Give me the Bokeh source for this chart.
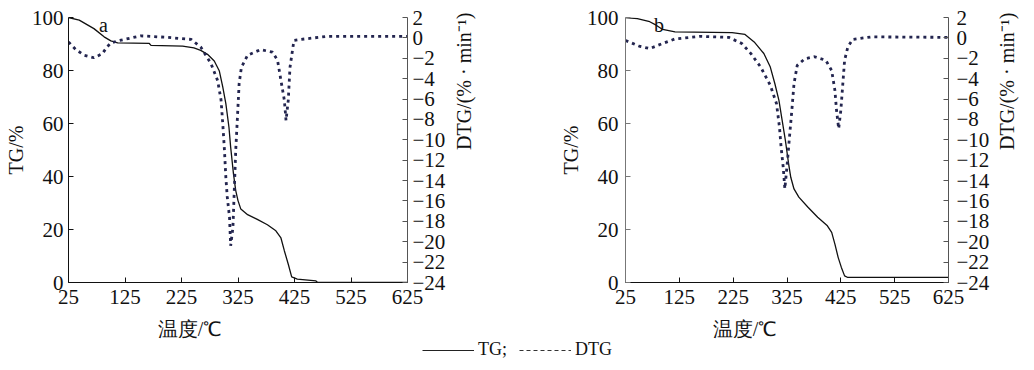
import math
from bokeh.plotting import figure
from bokeh.models import Range1d, LinearAxis, FixedTicker, Legend, LegendItem, Label
from bokeh.layouts import column, row
from bokeh.embed import file_html
from bokeh.resources import INLINE

# ---- data ----
x_ticks = [25, 125, 225, 325, 425, 525, 625]
tg_ticks = [0, 20, 40, 60, 80, 100]
dtg_ticks = list(range(-24, 3, 2))

a_tg_T = [25, 44, 70, 88, 100, 112, 168, 171, 227, 247, 259, 271, 283, 292, 298, 303.5, 309, 312,
          317, 321, 325, 330, 342, 360, 377, 392, 401, 407, 414, 420, 430, 463, 466, 625]
a_tg = [100, 99.0, 95.8, 92.7, 91.2, 90.4, 90.2, 89.5, 89.2, 88.5, 87.6, 86.1, 83.6, 79.8, 73.8, 67.5,
        58.6, 51.1, 41.0, 34.7, 30.9, 27.7, 25.6, 23.7, 21.8, 19.5, 16.8, 12.0, 6.9, 2.1, 1.3, 0.6, 0, 0]

a_dtg_T = [25, 38, 53, 70, 85, 93, 100, 112, 153, 200, 242, 259, 277, 289, 295, 298, 301, 303.5, 306,
           310, 312, 316, 318, 321, 324, 327, 331, 342, 365, 386, 395, 402, 407, 410, 414, 417, 421.5,
           424, 436, 483, 625]
a_dtg = [-0.4, -1.15, -1.7, -1.95, -1.55, -0.9, -0.5, -0.3, 0.2, 0.05, -0.15, -0.9, -2.5, -4.2, -6.1,
         -8.4, -11.0, -13.7, -15.6, -17.6, -20.4, -18.6, -15.6, -11.0, -7.8, -4.5, -2.9, -1.7, -1.15,
         -1.4, -2.2, -4.5, -6.1, -8.1, -6.1, -2.9, -1.2, -0.25, -0.15, 0.15, 0.15]

b_tg_T = [25, 47, 70, 82, 94, 117, 223, 247, 264, 282, 294, 302.5, 310, 316, 322, 328, 332, 338, 347,
          364, 382, 400, 408, 414, 420, 426, 432, 438, 625]
b_tg = [100, 99.6, 98.4, 97.1, 95.5, 94.6, 94.3, 93.6, 90.8, 86.4, 81.3, 75, 68.7, 61.2, 53.6, 44.8,
        39.7, 35.3, 32.2, 28.4, 24.6, 21.4, 18.9, 14.5, 9.5, 5.7, 2.5, 1.9, 1.9]

b_dtg_T = [25, 50, 70, 94, 117, 164, 217, 241, 258, 276, 294, 305.5, 311, 314, 318, 321, 326, 329, 334,
           338, 344, 358, 376, 397, 408, 414, 417, 421, 425, 428, 432, 438, 447, 482, 625]
b_dtg = [-0.25, -0.8, -1.05, -0.55, -0.1, 0.15, 0.05, -0.55, -1.55, -2.85, -4.65, -6.45, -8.75, -10.7,
         -12.7, -14.8, -12.0, -10.1, -7.1, -4.5, -2.7, -2.05, -1.85, -2.2, -3.2, -5.15, -7.1, -8.9, -7.1,
         -5.0, -2.2, -0.9, -0.15, 0.1, 0.05]

x_label = "温度/℃"
tg_label = "TG/%"
dtg_label = "DTG/(% · min⁻¹)"
legend_labels = ["TG;", "DTG"]

SERIF = "Liberation Serif"
FS = "20px"
TICK_FS = "21px"


def style_axis(ax, color, standoff):
    ax.axis_line_color = color
    ax.major_tick_line_color = color
    ax.major_tick_in = 5
    ax.major_tick_out = 0
    ax.minor_tick_line_color = None
    ax.major_label_text_font = SERIF
    ax.major_label_text_font_size = TICK_FS
    ax.major_label_text_color = "#111111"
    ax.major_label_standoff = standoff
    ax.axis_label_text_font = SERIF
    ax.axis_label_text_font_size = FS
    ax.axis_label_text_font_style = "normal"
    ax.axis_label_text_color = "#111111"


def panel(tgT, tg, dT, d, letter, width, left, right, left_color, l_standoff, r_standoff, rl_standoff):
    p = figure(width=width, height=316, x_range=Range1d(25, 625), y_range=Range1d(0, 100),
               output_backend="svg", toolbar_location=None,
               min_border_left=left, min_border_right=right, min_border_top=17, min_border_bottom=34)
    p.extra_y_ranges = {"dtg": Range1d(-24, 2)}
    p.xgrid.visible = False
    p.ygrid.visible = False
    p.outline_line_color = None
    p.background_fill_color = "white"

    xa = p.xaxis[0]
    xa.ticker = FixedTicker(ticks=x_ticks)
    style_axis(xa, "#111111", 7)

    ya = p.yaxis[0]
    ya.ticker = FixedTicker(ticks=tg_ticks)
    ya.axis_label = tg_label
    style_axis(ya, left_color, l_standoff)
    ya.axis_label_standoff = 2

    ra = LinearAxis(y_range_name="dtg", ticker=FixedTicker(ticks=dtg_ticks), axis_label=dtg_label)
    ra.major_label_overrides = {v: ("−%d" % abs(v) if v < 0 else "%d" % v) for v in dtg_ticks}
    style_axis(ra, "#555555", r_standoff)
    ra.axis_label_standoff = rl_standoff
    try:
        ra.axis_label_orientation = math.pi / 2
    except Exception:
        pass
    p.add_layout(ra, "right")

    p.line(tgT, tg, line_color="#111111", line_width=1.3)
    p.line(dT, d, y_range_name="dtg", line_color="#23254f", line_width=2.8, line_dash="3 4")

    p.add_layout(Label(x=87, y=97, text=letter, text_font=SERIF, text_font_size=FS,
                       text_align="center", text_baseline="middle", text_color="#111111"))
    return p


p1 = panel(a_tg_T, a_tg, a_dtg_T, a_dtg, "a", 556, 68, 149, "#111111", 5, 5, 16)
p2 = panel(b_tg_T, b_tg, b_dtg_T, b_dtg, "b", 476, 67, 69, "#777777", 7, 8, 15)

# bottom strip: x-axis titles of both panels and the shared legend
p3 = figure(width=1032, height=50, x_range=Range1d(0, 1), y_range=Range1d(0, 1),
            output_backend="svg", toolbar_location=None, min_border=0)
p3.axis.visible = False
p3.xgrid.visible = False
p3.ygrid.visible = False
p3.outline_line_color = None
for sx in (190, 745):
    p3.add_layout(Label(x=sx, y=38, x_units="screen", y_units="screen", text=x_label,
                        text_font=SERIF, text_font_size=FS, text_align="center",
                        text_baseline="middle", text_color="#111111"))
nan = float("nan")
r1 = p3.line(x=[nan], y=[nan], line_color="#222222", line_width=1)
r2 = p3.line(x=[nan], y=[nan], line_color="#333333", line_width=1, line_dash="4 3")
leg = Legend(items=[LegendItem(label=legend_labels[0], renderers=[r1]),
                    LegendItem(label=legend_labels[1], renderers=[r2])],
             orientation="horizontal", location=(422, 6), glyph_width=52, label_standoff=4,
             spacing=12, padding=0, margin=0, border_line_color=None, background_fill_alpha=0,
             label_text_font=SERIF, label_text_font_size="18px", label_text_color="#111111")
p3.add_layout(leg, "center")

layout = column(row(p1, p2), p3)
open("out.html", "w").write(file_html(layout, INLINE))
